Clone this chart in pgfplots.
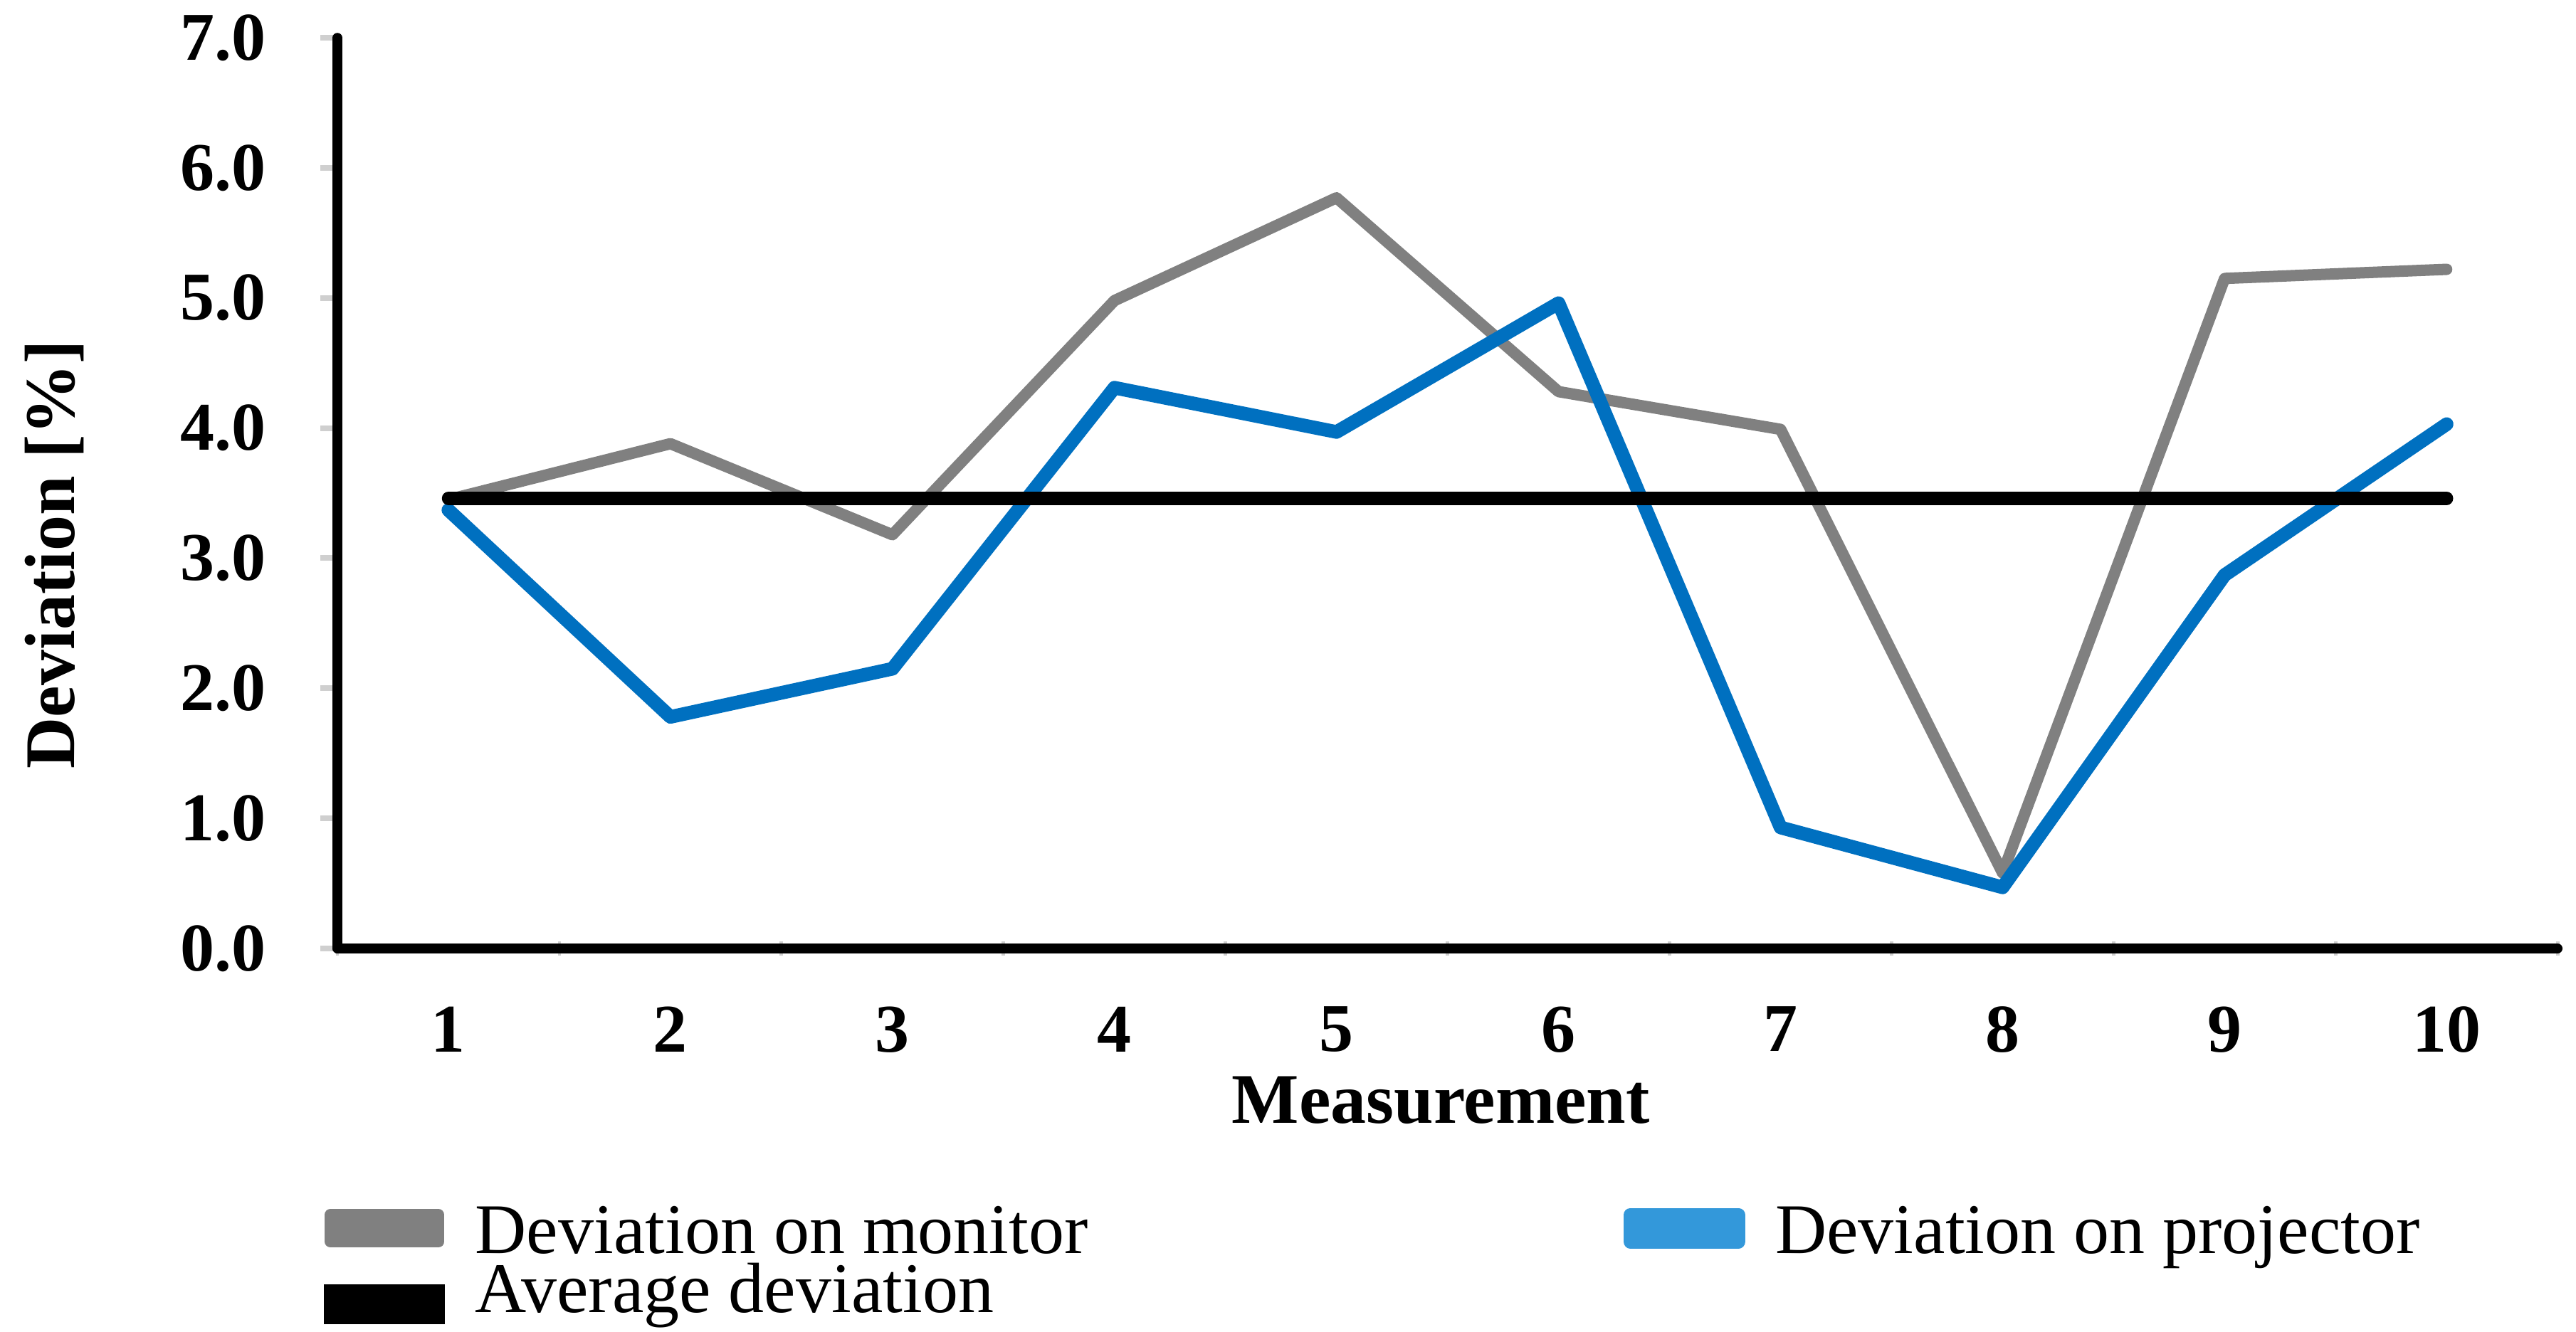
\documentclass[border=0pt]{standalone}
\usepackage{pgfplots}
\pgfplotsset{compat=1.18}
\usepackage{fontspec}
\setmainfont{Liberation Serif}
\definecolor{mongray}{HTML}{808080}
\definecolor{projblue}{HTML}{0070C0}
\definecolor{projbluelight}{HTML}{3398DA}
\definecolor{tickgray}{HTML}{CFCFCF}
\begin{document}
\begin{tikzpicture}
\begin{axis}[
  name=ax,
  scale only axis,
  width=389.9pt, height=160pt,
  xmin=0.5, xmax=10.5, ymin=0, ymax=7,
  axis x line=bottom, axis y line=left,
  axis line style={-, line width=1.7pt, black, line cap=round},
  xtick={1,2,3,4,5,6,7,8,9,10},
  xticklabels={1,2,3,4,5,6,7,8,9,10},
  minor xtick={0.5,1.5,2.5,3.5,4.5,5.5,6.5,7.5,8.5,9.5,10.5},
  ytick={0,1,2,3,4,5,6,7},
  /pgf/number format/assume math mode=true,
  /pgf/number format/.cd, fixed, fixed zerofill, precision=1, /pgfplots/.cd,
  x tick style={draw=none},
  minor x tick style={draw=tickgray, line width=0.6pt},
  minor tick length=2.5pt,
  y tick style={draw=tickgray, line width=1pt},
  ytick align=outside,
  major tick length=3pt,
  ticklabel style={font=\bfseries\fontsize{12}{14}\selectfont},
  xticklabel style={yshift=-5.2pt},
  yticklabel style={xshift=-6pt},
  xlabel={Measurement},
  ylabel={Deviation [\%]},
  label style={font=\bfseries\fontsize{12.5}{15}\selectfont},
  xlabel style={at={(axis description cs:0.497,-0.167)}, anchor=center},
  ylabel style={at={(axis description cs:-0.1275,0.4328)}, anchor=center},
  legend columns=2,
  legend style={draw=none, fill=none, inner sep=0pt, outer sep=0pt,
    at={(axis description cs:-0.0061,-0.285)}, anchor=north west,
    font=\fontsize{12.5}{15}\selectfont,
    nodes={inner sep=0pt, text height=0.7em, text depth=0.22em},
    cells={anchor=base west},
    row sep=1.2pt,
    /tikz/every odd column/.append style={column sep=5.3pt},
    /tikz/every even column/.append style={column sep=94pt}},
]
\addplot[mongray, line width=2pt, line join=round, line cap=round,
  legend image code/.code={\fill[mongray] (0pt,2.05pt) rectangle (19pt,6.75pt);}]
  coordinates {(1,3.45) (2,3.88) (3,3.18) (4,4.98) (5,5.77) (6,4.28) (7,3.99) (8,0.58) (9,5.15) (10,5.22)};
\addlegendentry{Deviation on monitor}
\addplot[projblue, line width=2.4pt, line join=round, line cap=round,
  legend image code/.code={\fill[projbluelight] (0pt,2.05pt) rectangle (19pt,6.75pt);}]
  coordinates {(1,3.37) (2,1.78) (3,2.15) (4,4.31) (5,3.97) (6,4.96) (7,0.93) (8,0.47) (9,2.87) (10,4.03)};
\addlegendentry{Deviation on projector}
\addplot[black, line width=2.3pt, line cap=round,
  legend image code/.code={\fill[black] (0pt,-0.85pt) rectangle (19pt,3.85pt);}]
  coordinates {(1,3.46) (2,3.46) (3,3.46) (4,3.46) (5,3.46) (6,3.46) (7,3.46) (8,3.46) (9,3.46) (10,3.46)};
\addlegendentry{Average deviation}
\end{axis}
\pgfresetboundingbox
\path (ax.south west) ++(-59.25pt,-67.25pt) rectangle ++(452.375pt,233.875pt);
\end{tikzpicture}
\end{document}
